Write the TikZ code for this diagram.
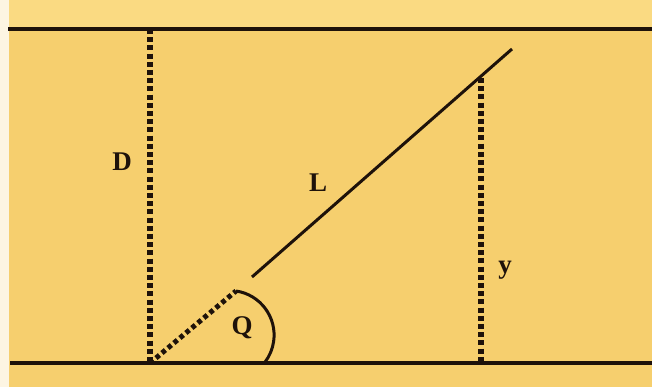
\documentclass[tikz,border=0pt]{standalone}
\usepackage{fontspec}
\setmainfont{Liberation Serif}
\definecolor{paper}{RGB}{246,207,110}
\definecolor{paperlight}{RGB}{250,218,130}
\definecolor{ink}{RGB}{30,18,10}
\begin{document}
\begin{tikzpicture}[x=1pt,y=1pt,
  solidline/.style={draw=ink,line width=3.3pt},
  dotline/.style={draw=ink,line width=5.6pt,dash pattern=on 5pt off 3.2pt},
  diagdot/.style={draw=ink,line width=5pt,dash pattern=on 4.5pt off 3.3pt},
  lbl/.style={text=ink,font=\fontsize{27}{29}\selectfont\bfseries,inner sep=0pt}]
\useasboundingbox (0,0) rectangle (652,387);
\fill[paper] (0,0) rectangle (652,387);
\fill[paperlight] (0,358) rectangle (652,387);
\fill[white!80!paper] (0,0) rectangle (9,387);
% coordinates
\coordinate (TL) at (8,358);
\coordinate (TR) at (652,358);
\coordinate (BL) at (10,24);
\coordinate (BR) at (652,24);
\coordinate (O) at (150,24);
\coordinate (T) at (150,358);
\coordinate (Dd) at (236,96);
\coordinate (Ls) at (252,110);
\coordinate (Le) at (512,338);
\coordinate (Yt) at (481,309);
\coordinate (Yb) at (481,24);
% lines
\draw[solidline] (TL) -- (TR);
\draw[solidline] (BL) -- (BR);
\draw[dotline] (T) -- (O);
\draw[dotline] (Yt) -- (Yb);
\draw[diagdot] (O) -- (Dd);
\draw[solidline,line width=3pt] (Ls) -- (Le);
\draw[solidline,line width=3pt] (Dd) arc[start angle=81.6,end angle=-37.3,radius=44.6];
% labels
\node[lbl] (D) at (122,225) {D};
\node[lbl] (L) at (318,204) {L};
\node[lbl] (y) at (505,117) {y};
\node[lbl] (Q) at (242,59) {Q};
\end{tikzpicture}
\end{document}
